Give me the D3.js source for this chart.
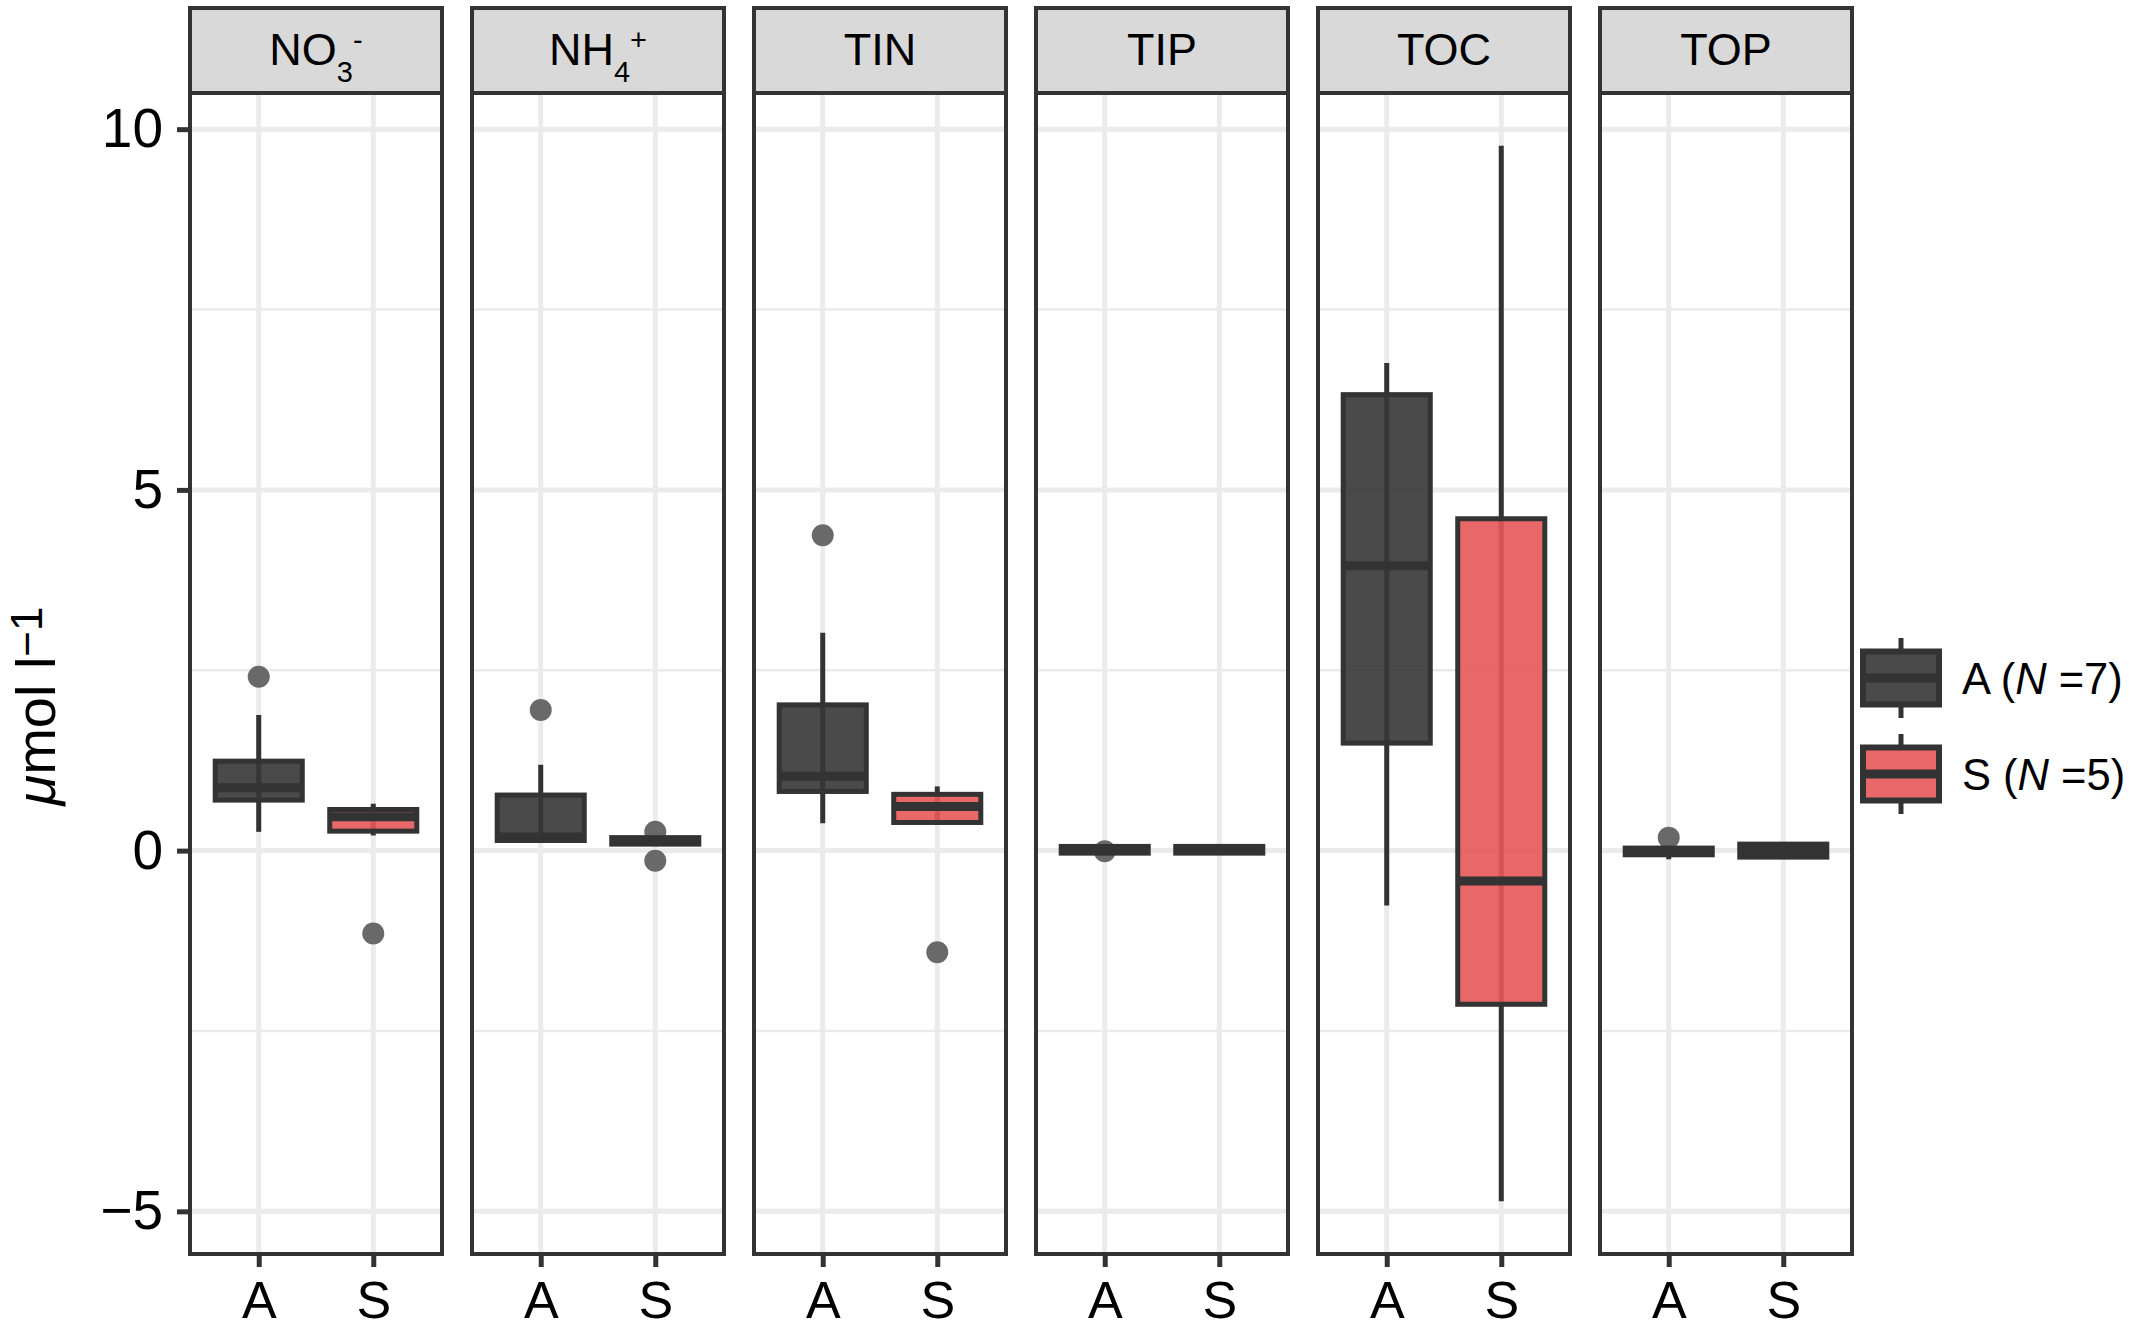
<!DOCTYPE html>
<html>
<head>
<meta charset="utf-8">
<script src="https://cdn.jsdelivr.net/npm/d3@7"></script>
<style>
  body { margin: 0; background: #fff; }
  text { font-family: "Liberation Sans", Arial, Helvetica, sans-serif; fill: #000; }
</style>
</head>
<body>
<div id="chart"></div>
<script>
// facets and groups
const panels = ["NO3", "NH4", "TIN", "TIP", "TOC", "TOP"];
const groups = ["A", "S"];
const legendLabels = ["A", "S"];
const legendN = [7, 5];

// box statistics, one value per panel
const lowA = [0.26, 0.14, 0.38, -0.035, -0.76, -0.12];
const q1A = [0.70, 0.14, 0.82, -0.035, 1.49, -0.058];
const medA = [0.87, 0.19, 1.03, 0.01, 3.95, 0.0];
const q3A = [1.24, 0.77, 2.02, 0.058, 6.32, 0.035];
const highA = [1.88, 1.19, 3.02, 0.058, 6.76, 0.035];
const outA = [[2.41], [1.95], [4.37], [-0.01], [], [0.18]];

const lowS = [0.21, 0.09, 0.39, -0.035, -4.86, -0.09];
const q1S = [0.27, 0.09, 0.39, -0.035, -2.13, -0.09];
const medS = [0.47, 0.13, 0.61, 0.0, -0.42, 0.0];
const q3S = [0.57, 0.18, 0.78, 0.058, 4.60, 0.09];
const highS = [0.65, 0.18, 0.89, 0.058, 9.77, 0.09];
const outS = [[-1.15], [0.26, -0.14], [-1.41], [], [], []];

const yTicks = [-5, 0, 5, 10];
const yMinor = [-2.5, 2.5, 7.5];

const width = 2133;
const height = 1330;
const panelTop = 93;
const panelBottom = 1254;
const stripTop = 8;
const ink = "#333333";
const fillColors = { A: "#363636", S: "#e5585a" };
const fillOpacity = 0.9;
const lineW = 5;
const medianW = 9;

const boxes = [];
panels.forEach((p, i) => {
  boxes.push({ panel: p, group: "A", low: lowA[i], q1: q1A[i], med: medA[i], q3: q3A[i], high: highA[i], out: outA[i] });
  boxes.push({ panel: p, group: "S", low: lowS[i], q1: q1S[i], med: medS[i], q3: q3S[i], high: highS[i], out: outS[i] });
});
const points = boxes.flatMap((b) => b.out.map((v) => ({ panel: b.panel, group: b.group, value: v })));

// y range like ggplot: data extent expanded by 5%
const allValues = boxes.flatMap((b) => [b.low, b.high, ...b.out]);
const [lo, hi] = d3.extent(allValues);
const pad = (hi - lo) * 0.05;

const y = d3.scaleLinear().domain([lo - pad, hi + pad]).range([panelBottom, panelTop]);
const fx = d3.scaleBand().domain(panels).range([190, 1852]).paddingInner(30 / 282).paddingOuter(0);
const x = d3.scalePoint().domain(groups).range([0, fx.bandwidth()]).padding(0.6);
const boxW = x.step() * 0.76;

const svg = d3.select("#chart").append("svg")
  .attr("width", width)
  .attr("height", height);

const facet = svg.append("g")
  .selectAll("g")
  .data(panels)
  .join("g")
  .attr("transform", (d) => `translate(${fx(d)},0)`);

// panel background + grid
facet.append("rect")
  .attr("x", 0).attr("y", panelTop)
  .attr("width", fx.bandwidth()).attr("height", panelBottom - panelTop)
  .attr("fill", "#fff");

facet.selectAll(".minor")
  .data(yMinor)
  .join("line")
  .attr("x1", 0).attr("x2", fx.bandwidth())
  .attr("y1", (d) => y(d)).attr("y2", (d) => y(d))
  .attr("stroke", "#ebebeb").attr("stroke-width", 2.5);

facet.selectAll(".major")
  .data(yTicks)
  .join("line")
  .attr("x1", 0).attr("x2", fx.bandwidth())
  .attr("y1", (d) => y(d)).attr("y2", (d) => y(d))
  .attr("stroke", "#ebebeb").attr("stroke-width", 5);

facet.selectAll(".vgrid")
  .data(groups)
  .join("line")
  .attr("x1", (d) => x(d)).attr("x2", (d) => x(d))
  .attr("y1", panelTop).attr("y2", panelBottom)
  .attr("stroke", "#ebebeb").attr("stroke-width", 5);

// outlier points sit under the boxes
facet.selectAll(".pt")
  .data((p) => points.filter((d) => d.panel === p))
  .join("circle")
  .attr("cx", (d) => x(d.group))
  .attr("cy", (d) => y(d.value))
  .attr("r", 11)
  .attr("fill", "#696969");

const box = facet.selectAll(".box")
  .data((p) => boxes.filter((d) => d.panel === p))
  .join("g")
  .attr("transform", (d) => `translate(${x(d.group)},0)`);

// whisker runs through the whole range, the box fill is slightly see-through
box.append("line")
  .attr("y1", (d) => y(d.low)).attr("y2", (d) => y(d.high))
  .attr("stroke", ink).attr("stroke-width", lineW);

box.append("rect")
  .attr("x", -boxW / 2)
  .attr("y", (d) => y(d.q3))
  .attr("width", boxW)
  .attr("height", (d) => y(d.q1) - y(d.q3))
  .attr("fill", (d) => fillColors[d.group])
  .attr("fill-opacity", fillOpacity)
  .attr("stroke", ink)
  .attr("stroke-width", lineW);

box.append("line")
  .attr("x1", -boxW / 2).attr("x2", boxW / 2)
  .attr("y1", (d) => y(d.med)).attr("y2", (d) => y(d.med))
  .attr("stroke", ink).attr("stroke-width", medianW);

// panel border
facet.append("rect")
  .attr("x", 0).attr("y", panelTop)
  .attr("width", fx.bandwidth()).attr("height", panelBottom - panelTop)
  .attr("fill", "none").attr("stroke", ink).attr("stroke-width", 4);

// strips
facet.append("rect")
  .attr("x", 0).attr("y", stripTop)
  .attr("width", fx.bandwidth()).attr("height", panelTop - stripTop)
  .attr("fill", "#d9d9d9").attr("stroke", ink).attr("stroke-width", 4);

const stripText = facet.append("text")
  .attr("x", fx.bandwidth() / 2)
  .attr("y", 65)
  .attr("text-anchor", "middle")
  .style("font-size", "45px");

stripText.each(function (p) {
  const t = d3.select(this);
  if (p === "NO3" || p === "NH4") {
    t.append("tspan").text(p === "NO3" ? "NO" : "NH");
    t.append("tspan").attr("dy", 17).style("font-size", "29px").text(p === "NO3" ? "3" : "4");
    t.append("tspan").attr("dy", -32).style("font-size", "29px").text(p === "NO3" ? "-" : "+");
  } else {
    t.text(p);
  }
});

// x axes
facet.append("g")
  .attr("transform", `translate(0,${panelBottom})`)
  .call(d3.axisBottom(x).tickSize(13).tickPadding(14))
  .call((g) => g.select(".domain").remove())
  .call((g) => g.selectAll("line").attr("stroke", ink).attr("stroke-width", lineW))
  .call((g) => g.selectAll("text")
    .attr("fill", "#000")
    .style("font-size", "52px")
    .style("font-family", "'Liberation Sans', Arial, sans-serif"));

// y axis on the first panel
svg.append("g")
  .attr("transform", `translate(${fx(panels[0])},0)`)
  .call(d3.axisLeft(y).tickValues(yTicks).tickSize(13).tickPadding(14))
  .call((g) => g.select(".domain").remove())
  .call((g) => g.selectAll("line").attr("stroke", ink).attr("stroke-width", lineW))
  .call((g) => g.selectAll("text")
    .attr("fill", "#000")
    .style("font-size", "55px")
    .style("font-family", "'Liberation Sans', Arial, sans-serif"));

// y title
const yTitle = svg.append("text")
  .attr("transform", "translate(55,706) rotate(-90)")
  .attr("text-anchor", "middle")
  .style("font-size", "56px");
yTitle.append("tspan").style("font-style", "italic").text("μ");
yTitle.append("tspan").text("mol l");
yTitle.append("tspan").attr("dy", -13).style("font-size", "44px").text("−1");

// legend
const legendY = [678, 774];
const keyW = 76;
const keyH = 53;
const legend = svg.append("g")
  .attr("transform", "translate(1863,0)")
  .selectAll("g")
  .data(legendLabels)
  .join("g")
  .attr("transform", (d, i) => `translate(0,${legendY[i]})`);

legend.append("line")
  .attr("x1", keyW / 2).attr("x2", keyW / 2)
  .attr("y1", -40).attr("y2", 40)
  .attr("stroke", ink).attr("stroke-width", lineW);

legend.append("rect")
  .attr("x", 0).attr("y", -keyH / 2)
  .attr("width", keyW).attr("height", keyH)
  .attr("fill", "#fff")
  .attr("stroke", "none");

legend.append("rect")
  .attr("x", 0).attr("y", -keyH / 2)
  .attr("width", keyW).attr("height", keyH)
  .attr("fill", (d) => fillColors[d])
  .attr("fill-opacity", fillOpacity)
  .attr("stroke", ink).attr("stroke-width", lineW + 1);

legend.append("line")
  .attr("x1", 0).attr("x2", keyW)
  .attr("y1", 0).attr("y2", 0)
  .attr("stroke", ink).attr("stroke-width", medianW);

const legendText = legend.append("text")
  .attr("x", 99)
  .attr("y", 16)
  .style("font-size", "43.5px");
legendText.append("tspan").text((d) => `${d} (`);
legendText.append("tspan").style("font-style", "italic").text("N");
legendText.append("tspan").text((d, i) => ` =${legendN[i]})`);
</script>
</body>
</html>
